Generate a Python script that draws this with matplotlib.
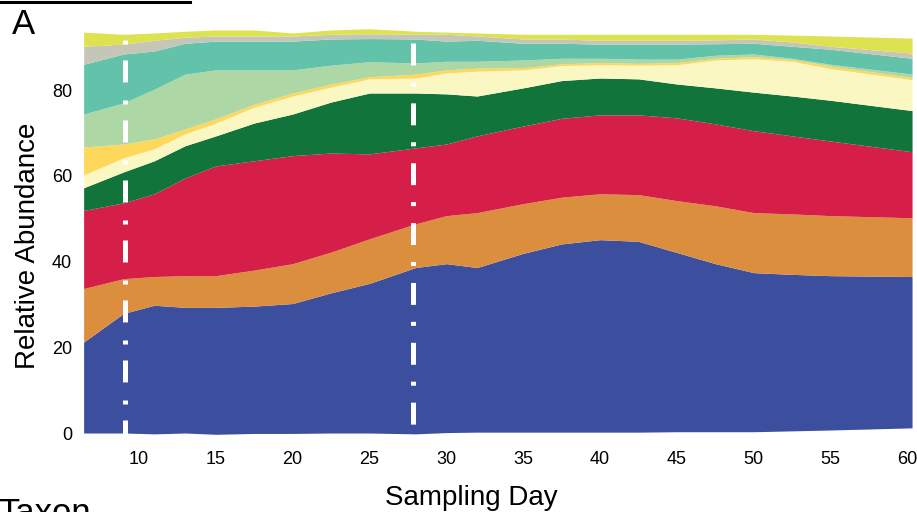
import numpy as np
import matplotlib.pyplot as plt
from matplotlib.lines import Line2D

plt.rcParams['font.family'] = ['Liberation Sans', 'DejaVu Sans']
plt.rcParams['lines.scale_dashes'] = False

# ── data (relative abundance per taxon) ──────────────────────────────────────
days = [6.4, 9, 11, 13, 15, 17.5, 20, 22.5, 25, 28, 30, 32, 35, 37.5, 40, 42.5,
        45, 47.5, 50, 52.5, 55, 60.3]
base = [0.0, 0.0, -0.2, 0.0, -0.3, -0.1, -0.1, 0.0, 0.0, -0.2, 0.1, 0.2, 0.2, 0.2,
        0.2, 0.2, 0.3, 0.3, 0.3, 0.5, 0.7, 1.2]

t1  = [21.2, 27.9, 30.0, 29.3, 29.6, 29.7, 30.3, 32.7, 34.9, 38.8, 39.4, 38.4, 41.7,
       43.9, 44.9, 44.5, 41.8, 39.2, 37.1, 36.5, 36.0, 35.3]
t2  = [12.5, 8.1, 6.7, 7.4, 7.4, 8.4, 9.3, 9.5, 10.4, 10.2, 11.2, 12.8, 11.6, 10.9,
       10.7, 10.9, 12.1, 13.5, 14.0, 14.1, 14.0, 13.7]
t3  = [18.2, 17.7, 19.3, 22.8, 25.6, 25.5, 25.2, 23.1, 19.8, 17.7, 16.7, 17.9, 18.1,
       18.4, 18.4, 18.6, 19.3, 19.1, 19.1, 18.2, 17.4, 15.4]
t4  = [5.3, 7.2, 7.7, 7.5, 7.0, 8.8, 9.7, 11.9, 14.2, 12.8, 11.7, 9.3, 8.9, 8.8, 8.6,
       8.4, 7.9, 8.4, 9.0, 9.3, 9.5, 9.6]
t5  = [3.0, 3.3, 2.8, 2.8, 3.0, 3.7, 4.2, 3.5, 3.3, 3.5, 4.9, 5.8, 4.2, 3.5, 3.1, 3.2,
       4.5, 6.5, 7.8, 8.1, 7.4, 7.2]
t6  = [6.5, 3.2, 2.3, 1.1, 1.0, 0.7, 0.7, 0.7, 0.5, 0.9, 0.7, 0.7, 0.5, 0.4, 0.5, 0.4,
       0.5, 0.4, 0.5, 0.4, 0.6, 0.5]
t7  = [7.7, 9.6, 11.6, 12.8, 11.4, 8.0, 5.4, 4.4, 3.5, 2.6, 2.0, 1.6, 1.8, 1.3, 1.0,
       1.0, 0.8, 0.7, 0.6, 0.3, 0.4, 0.8]
t8  = [11.6, 11.4, 8.9, 7.2, 6.7, 6.7, 6.7, 6.1, 5.4, 5.6, 4.7, 4.9, 3.9, 3.5, 3.3,
       3.5, 3.5, 2.7, 2.5, 2.8, 3.5, 3.7]
t9  = [4.2, 2.3, 2.5, 1.4, 1.2, 1.2, 1.2, 1.1, 1.1, 1.1, 1.6, 1.0, 1.0, 1.0, 0.9, 0.9,
       0.9, 0.9, 1.0, 1.0, 0.7, 1.2]
t10 = [3.3, 2.3, 1.7, 1.4, 1.4, 1.4, 0.7, 1.0, 1.2, 0.7, 0.5, 0.7, 1.1, 1.1, 1.4, 1.4,
       1.4, 1.3, 1.1, 1.6, 2.4, 3.5]

taxa   = [t1, t2, t3, t4, t5, t6, t7, t8, t9, t10]
colors = ['#3C4E9E', '#DA8E3E', '#D51F48', '#10743B', '#FAF7C3',
          '#FDD85A', '#ADD8A6', '#63C3AA', '#C6C6B8', '#DDE250']

events = [9.1, 27.8]          # dash-dot markers
ev_top = [91.7, 91.0]

fig = plt.figure(figsize=(9.17, 5.12), dpi=100)
ax = fig.add_axes([0.0912, 0.1459, 0.9034, 0.8123])

lower = np.array(base, dtype=float)
for vals, col in zip(taxa, colors):
    upper = lower + np.array(vals)
    ax.fill_between(days, lower, upper, color=col, lw=0)
    lower = upper

pats = [(2.9, 11.5, 15.8, 13.0), (15.8, 12.2, 2.9, 12.2)]
for xd, top, pat in zip(events, ev_top, pats):
    ln, = ax.plot([xd, xd], [top, -0.5], color='white', lw=3.6,
                  solid_capstyle='butt', dash_capstyle='butt')
    ln.set_dashes(pat)

ax.set_xlim(6.4, 60.3); ax.set_ylim(-1, 96)
ax.set_xticks(range(10, 61, 5)); ax.set_yticks([0, 20, 40, 60, 80])
ax.tick_params(length=0, labelsize=13)
ax.tick_params(axis='y', pad=8.4); ax.tick_params(axis='x', pad=10)
for sp in ax.spines.values():
    sp.set_visible(False)

ax.set_xlabel('Sampling Day', fontsize=20)
ax.xaxis.set_label_coords(0.4676, -0.115)
ax.set_ylabel('Relative Abundance', fontsize=20)
ax.yaxis.set_label_coords(-0.0514, 0.46)

fig.text(12 / 917, 1 - 8 / 512, 'A', fontsize=25, va='top', ha='left')
fig.text(-2 / 917, 1 - 497 / 512, 'Taxon', fontsize=25, va='top', ha='left')
fig.add_artist(Line2D([0, 190 / 917], [1 - 1.5 / 512] * 2, color='black', lw=2.2))

fig.savefig('out.png', dpi=100)
